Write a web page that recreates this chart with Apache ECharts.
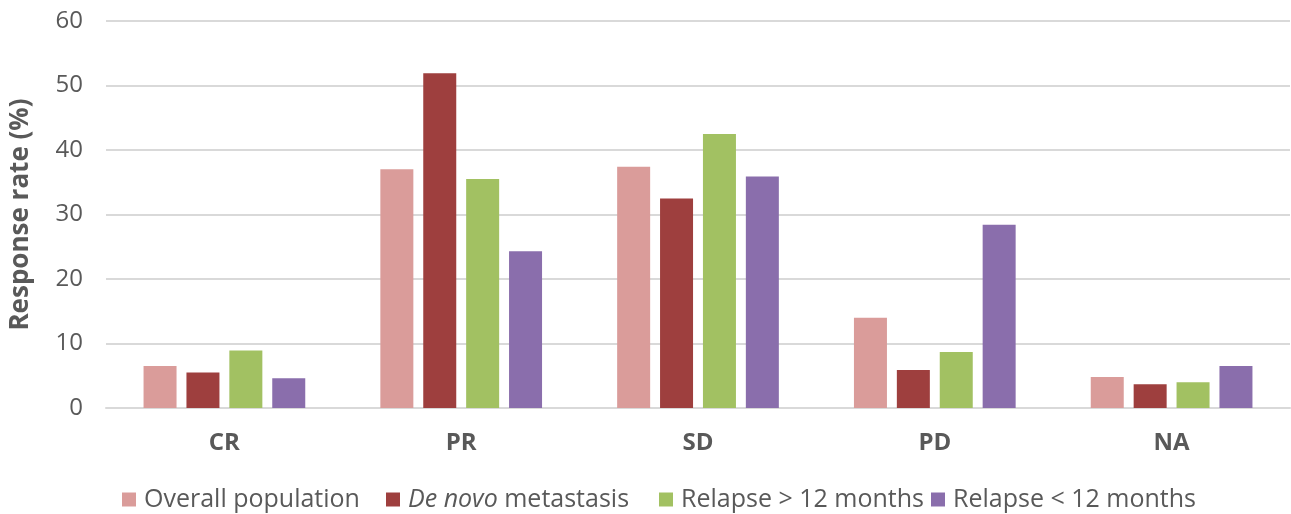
<!DOCTYPE html>
<html>
<head>
<meta charset="utf-8">
<script src="https://cdn.jsdelivr.net/npm/echarts@6/dist/echarts.min.js"></script>
<style>
  html, body { margin: 0; padding: 0; background: #fff; }
  #chart { width: 1291px; height: 514px; }
</style>
</head>
<body>
<div id="chart"></div>
<script>
// Response categories and percentages per patient group
const categories = ['CR', 'PR', 'SD', 'PD', 'NA'];
const seriesNames = ['Overall population', 'De novo metastasis', 'Relapse > 12 months', 'Relapse < 12 months'];
const overallPopulation = [6.5, 37.0, 37.4, 14.0, 4.8];
const deNovoMetastasis = [5.5, 51.9, 32.5, 5.9, 3.7];
const relapseOver12 = [8.9, 35.5, 42.5, 8.7, 4.0];
const relapseUnder12 = [4.6, 24.3, 35.9, 28.4, 6.5];
const yTicks = [0, 10, 20, 30, 40, 50, 60];

const colors = ['#DA9C9A', '#9E3F3E', '#A2C162', '#8A6EAC'];
const values = [overallPopulation, deNovoMetastasis, relapseOver12, relapseUnder12];
const legendLeft = [122, 386, 659, 931];
const font = '"Open Sans", "Noto Sans", sans-serif';
const textColor = '#595959';

const chart = echarts.init(document.getElementById('chart'), null, { renderer: 'canvas' });

// One legend per series so each entry sits at its own spot on the bottom row
const legends = seriesNames.map(function (name, i) {
  return {
    data: [name],
    top: 487,
    left: legendLeft[i],
    padding: 0,
    itemWidth: 14,
    itemHeight: 14,
    icon: 'rect',
    textStyle: {
      fontFamily: font,
      fontSize: 25,
      color: textColor,
      rich: {
        it: { fontFamily: font, fontSize: 25, color: textColor, fontStyle: 'italic', padding: [0, 0, 0, 3] },
        n: { fontFamily: font, fontSize: 25, color: textColor, padding: [0, 0, 0, 3] },
        m: { fontFamily: font, fontSize: 25, color: textColor }
      }
    },
    formatter: function (n) {
      if (n.indexOf('De novo') === 0) {
        return '{it|De novo}{m| ' + n.slice(8) + '}';
      }
      return '{n|' + n + '}';
    }
  };
});

chart.setOption({
  animation: false,
  color: colors,
  grid: { left: 106, right: 1, top: 21, bottom: 106, containLabel: false },
  legend: legends,
  xAxis: {
    type: 'category',
    data: categories,
    axisLine: { show: true, lineStyle: { color: '#D9D9D9', width: 2 } },
    axisTick: { show: false },
    axisLabel: {
      margin: 23,
      fontFamily: font,
      fontSize: 24,
      fontWeight: 'bold',
      color: textColor
    }
  },
  yAxis: {
    type: 'value',
    min: yTicks[0],
    max: yTicks[yTicks.length - 1],
    interval: 10,
    name: 'Response rate (%)',
    nameLocation: 'middle',
    nameGap: 72,
    nameTextStyle: {
      fontFamily: font,
      fontSize: 26,
      fontWeight: 'bold',
      color: textColor
    },
    axisLine: { show: false },
    axisTick: { show: false },
    axisLabel: {
      margin: 23,
      fontFamily: font,
      fontSize: 24,
      color: textColor
    },
    splitLine: { lineStyle: { color: '#D9D9D9', width: 2 } }
  },
  series: seriesNames.map(function (name, i) {
    return {
      name: name,
      type: 'bar',
      data: values[i],
      barWidth: 33,
      barGap: '30%',
      itemStyle: { color: colors[i] }
    };
  })
});
</script>
</body>
</html>
